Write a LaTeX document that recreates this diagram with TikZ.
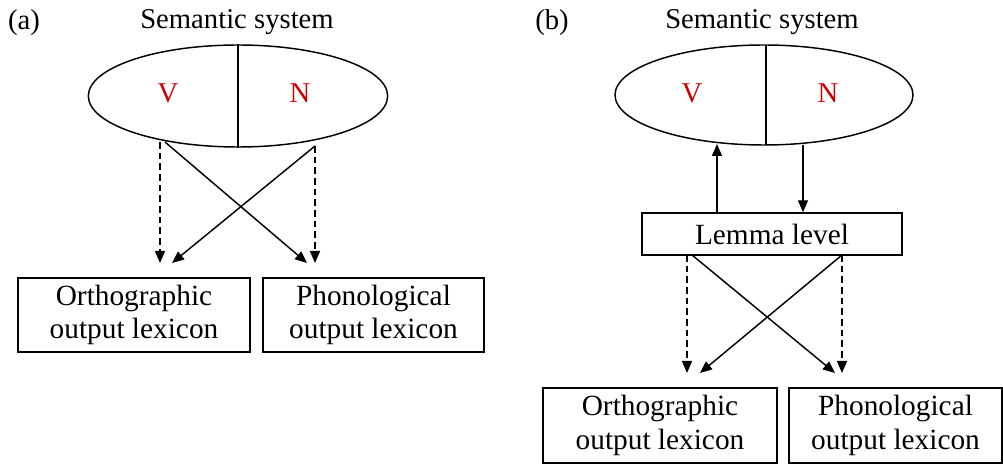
\documentclass[tikz,border=0pt]{standalone}
\usepackage{fontspec}
\setmainfont{Liberation Serif}
\usetikzlibrary{arrows.meta,shapes.geometric}
\tikzset{
  lbl/.style={inner sep=0pt, font=\fontsize{21.5}{25}\selectfont},
  letter/.style={inner sep=0pt, text=red!80!black, font=\fontsize{21.5}{25}\selectfont},
  boxnode/.style={draw, line width=1.1pt, inner sep=0pt, align=center, font=\fontsize{22}{25}\selectfont},
  conn/.style={line width=1.1pt, -{Triangle[length=9pt,width=7.5pt]}},
  dconn/.style={conn, dash pattern=on 5pt off 3pt},
}
\begin{document}
\begin{tikzpicture}[x=0.75pt,y=-0.75pt]
\useasboundingbox (0,0) rectangle (1003,466);
% ---------- panel (a)
\node[lbl] (la) at (24,23) {(a)};
\node[lbl] (sa) at (237,22) {Semantic system};
\node[draw, line width=1.1pt, ellipse, minimum width=224.5pt, minimum height=76.5pt, inner sep=0pt] (ea) at (238,96) {};
\draw[line width=1.1pt] (ea.north) -- (ea.south);
\node[letter] (va) at (168,93) {V};
\node[letter] (na) at (300,93) {N};
\node[boxnode, minimum width=174pt, minimum height=55.5pt] (oa) at (134,315) {Orthographic\\output lexicon};
\node[boxnode, minimum width=166pt, minimum height=55.5pt] (pa) at (373.5,315) {Phonological\\output lexicon};
\coordinate (a1) at (160,142);
\coordinate (a2) at (165,142);
\coordinate (a3) at (315,146);
\draw[dconn] (a1) -- (a1 |- 0,263);
\draw[conn] (a2) -- (307,263);
\draw[conn] (a3) -- (172,263);
\draw[dconn] (a3) -- (a3 |- 0,263);
% ---------- panel (b)
\node[lbl] (lb) at (552,23) {(b)};
\node[lbl] (sb) at (762,22) {Semantic system};
\node[draw, line width=1.1pt, ellipse, minimum width=223.5pt, minimum height=75pt, inner sep=0pt] (eb) at (764,95) {};
\draw[line width=1.1pt] (766,45) -- (766,145);
\node[letter] (vb) at (692,93) {V};
\node[letter] (nb) at (828,93) {N};
\node[boxnode, minimum width=195pt, minimum height=31.5pt] (lem) at (772,234) {Lemma level};
\node[boxnode, minimum width=175.5pt, minimum height=56pt] (ob) at (660,425.5) {Orthographic\\output lexicon};
\node[boxnode, minimum width=160pt, minimum height=56pt] (pb) at (895.5,425.5) {Phonological\\output lexicon};
\draw[conn] (lem.north -| 717,0) -- (717,144);
\draw[conn] (803,145) -- (lem.north -| 803,0);
\coordinate (b1) at (687,255);
\coordinate (b2) at (692,255);
\coordinate (b3) at (842,255);
\draw[dconn] (b1) -- (687,373);
\draw[conn] (b2) -- (835,373);
\draw[conn] (b3) -- (700,373);
\draw[dconn] (b3) -- (842,373);
\end{tikzpicture}
\end{document}
